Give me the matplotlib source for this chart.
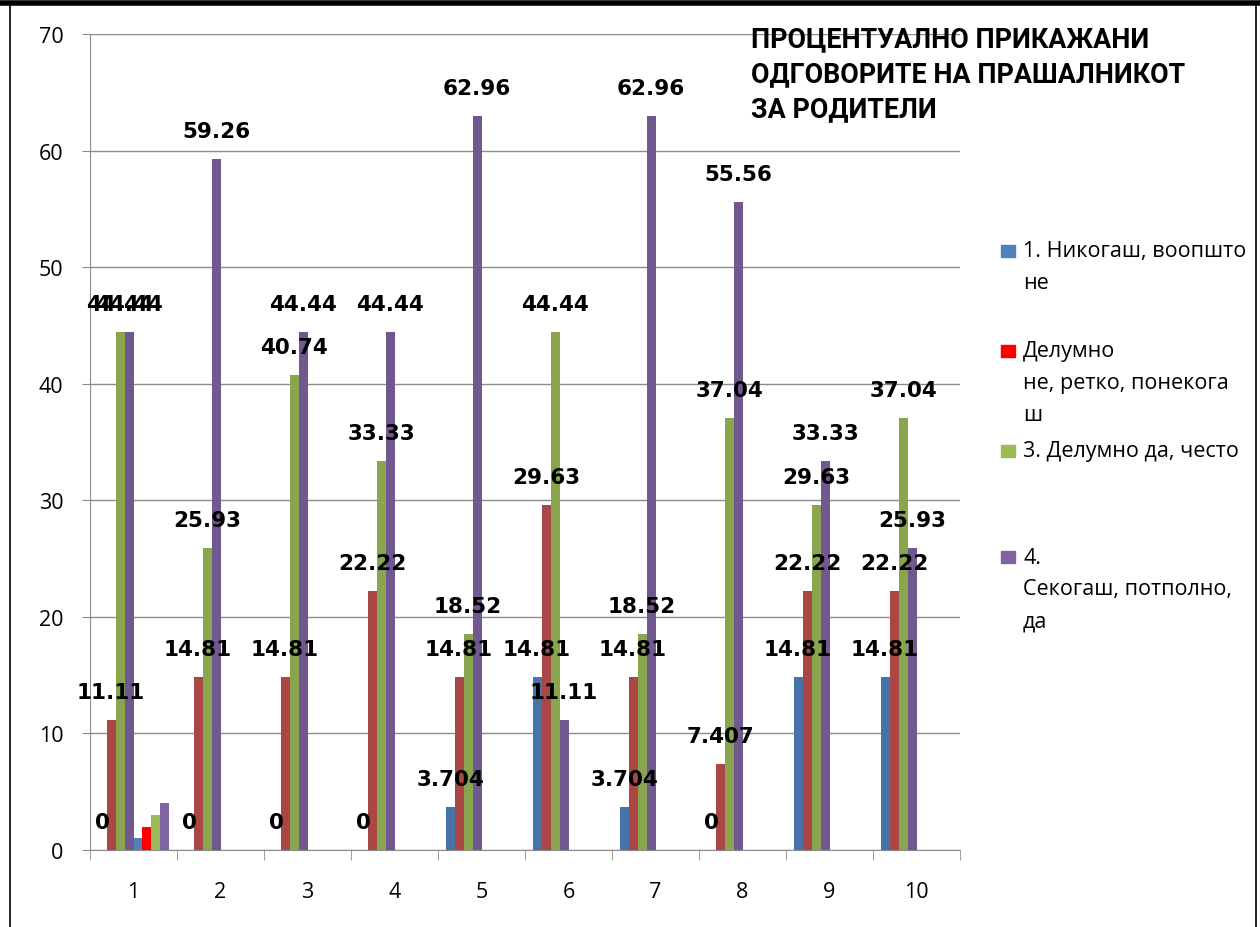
import numpy as np
import matplotlib.pyplot as plt
from matplotlib.lines import Line2D
from matplotlib.patches import Rectangle

# data
categories = ['1', '2', '3', '4', '5', '6', '7', '8', '9', '10']
never = [0, 0, 0, 0, 3.704, 14.81, 3.704, 0, 14.81, 14.81]
partly_no = [11.11, 14.81, 14.81, 22.22, 14.81, 29.63, 14.81, 7.407, 22.22, 22.22]
partly_yes = [44.44, 25.93, 40.74, 33.33, 18.52, 44.44, 18.52, 37.04, 29.63, 37.04]
always = [44.44, 59.26, 44.44, 44.44, 62.96, 11.11, 62.96, 55.56, 33.33, 25.93]
# extra series that only has values in the first category
extra = [[1, None, None, None, None, None, None, None, None, None],
         [2, None, None, None, None, None, None, None, None, None],
         [3, None, None, None, None, None, None, None, None, None],
         [4, None, None, None, None, None, None, None, None, None]]

legend_labels = ['1. Никогаш, воопшто\nне',
                 'Делумно\nне, ретко, понекога\nш',
                 '3. Делумно да, често',
                 '4.\nСекогаш, потполно,\nда']
title_lines = ['ПРОЦЕНТУАЛНО ПРИКАЖАНИ', 'ОДГОВОРИТЕ НА ПРАШАЛНИКОТ', 'ЗА РОДИТЕЛИ']

main_colors = ['#4674AA', '#AA4643', '#89A54E', '#71588F']
extra_colors = ['#4F81BD', '#FF0000', '#9BBB59', '#8064A2']

W, H = 1260, 928
fig = plt.figure(figsize=(12.6, 9.28), dpi=100)
ax = fig.add_axes([90/W, 1-851/H, 870/W, 816/H])

x = np.arange(1, len(categories) + 1)
w = 1/9.67
main = [never, partly_no, partly_yes, always]

for j, vals in enumerate(main):
    pos = x + (j - 3.5)*w
    ax.bar(pos, vals, width=w, color=main_colors[j], zorder=3)
    for px, v in zip(pos, vals):
        ax.annotate('{:g}'.format(v), (px, v), xytext=(0, 28), textcoords='offset pixels',
                    ha='center', va='center', fontsize=15.5, fontweight='bold', zorder=5)

for k, vals in enumerate(extra):
    pos = x + (k + 4 - 3.5)*w
    v = np.array([np.nan if a is None else a for a in vals], dtype=float)
    ax.bar(pos, v, width=w, color=extra_colors[k], zorder=3)

ax.set_xlim(0.5, 10.5)
ax.set_ylim(0, 70)
ax.set_yticks(range(0, 71, 10))
ax.yaxis.grid(True, color='#8c8c8c', linewidth=1, zorder=0)
ax.set_xticks(x)
ax.set_xticklabels(categories, fontsize=15.5, family='Open Sans')
ax.set_xticks(np.arange(0.5, 11, 1), minor=True)
ax.tick_params(axis='x', which='major', length=0, pad=22)
ax.tick_params(axis='x', which='minor', length=7, color='#8c8c8c', direction='out')
ax.tick_params(axis='y', length=6, color='#8c8c8c', pad=13)
for t in ax.get_yticklabels():
    t.set_fontsize(15.5)
    t.set_family('Open Sans')
for s in ['top', 'right']:
    ax.spines[s].set_visible(False)
ax.spines['left'].set_color('#8c8c8c')
ax.spines['bottom'].set_color('#8c8c8c')

# title
for i, line in enumerate(title_lines):
    fig.text(751/W, 1 - (40 + i*35)/H, line, fontsize=19.4, fontweight='bold',
             family=['Roboto', 'DejaVu Sans'], va='center', ha='left')

# legend drawn by hand to keep Excel's spacing
leg_y = [252, 352, 452, 558]
for i, lab in enumerate(legend_labels):
    y0 = leg_y[i]
    fig.patches.append(Rectangle((1001/W, 1 - (y0 + 6)/H), 14/W, 12/H,
                                 transform=fig.transFigure, color=extra_colors[i]))
    for k, part in enumerate(lab.split('\n')):
        fig.text(1023/W, 1 - (y0 + k*32)/H, part, fontsize=15.5, va='center', ha='left',
                 family=['Open Sans', 'DejaVu Sans'])

# chart frame
fig.add_artist(Line2D([0, 1], [1 - 4/H, 1 - 4/H], color='black', linewidth=4))
fig.add_artist(Line2D([10/W, 10/W], [0, 1 - 4/H], color='black', linewidth=1.2))
fig.add_artist(Line2D([1256/W, 1256/W], [0, 1 - 4/H], color='black', linewidth=1.2))

fig.savefig('out.png', dpi=100)
